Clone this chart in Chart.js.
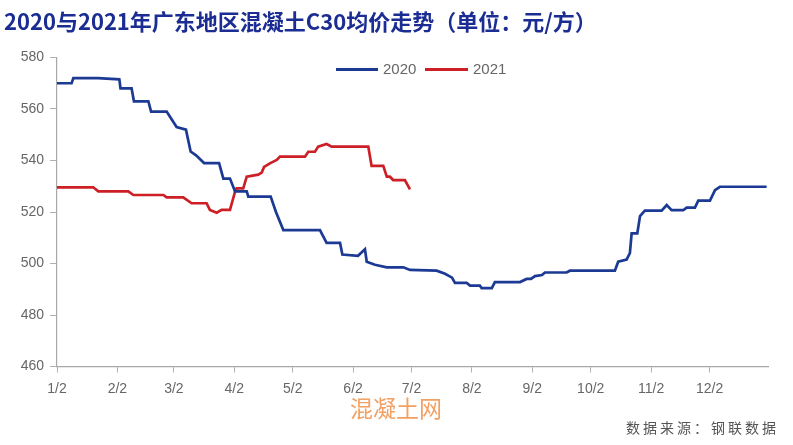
<!DOCTYPE html>
<html>
<head>
<meta charset="utf-8">
<script src="https://cdn.jsdelivr.net/npm/chart.js@4/dist/chart.umd.min.js"></script>
<style>
  html, body { margin: 0; padding: 0; background: #fff; }
  #wrap { position: relative; width: 793px; height: 445px; overflow: hidden; }
  #wrap canvas { position: absolute; left: 0; top: 0; }
  .title { position: absolute; left: 4px; top: 4px; font-family: "Noto Sans CJK SC", sans-serif; font-weight: 700; font-size: 22px; color: #1b2d92; white-space: nowrap; }
  .legend { position: absolute; top: 60px; font-family: "Liberation Sans", sans-serif; font-size: 15px; color: #666; white-space: nowrap; }
  .sw { position: absolute; height: 3px; top: 68px; }
  .wm { position: absolute; left: 350px; top: 390px; font-family: "Noto Sans CJK SC", sans-serif; font-size: 23px; color: #f2a063; white-space: nowrap; z-index: 2; }
  .src { position: absolute; left: 626px; top: 417px; font-family: "Noto Sans CJK SC", sans-serif; font-size: 14px; color: #555; letter-spacing: 3px; white-space: nowrap; }
</style>
</head>
<body>
<div id="wrap">
  <canvas id="c" width="793" height="445"></canvas>
  <div class="title">2020与2021年广东地区混凝土C30均价走势（单位：元/方）</div>
  <div class="sw" style="left:336px;width:42px;background:#1c3a94;"></div>
  <div class="legend" style="left:383px;">2020</div>
  <div class="sw" style="left:425px;width:43px;background:#cc2026;"></div>
  <div class="legend" style="left:473px;">2021</div>
  <div class="wm">混凝土网</div>
  <div class="src">数据来源：钢联数据</div>
</div>
<script>
// x = days since 1/2, y = price (元/方)
const seriesNames = ["2020", "2021"];
const days2020 = [0, 7.5, 8.4, 21, 32, 32.6, 38.3, 39.5, 46.9, 48.3, 56.3, 61.4, 66.2, 68.6, 71.4, 75.5, 83.2, 85.4, 88.8, 91.4, 97.4, 98.2, 109.7, 112.4, 116.2, 135, 138.4, 145.3, 146.5, 154.5, 158.1, 159, 163.2, 169.3, 177.8, 181.2, 194.9, 199.2, 202.8, 204.3, 210.3, 212, 217.1, 218, 223.2, 224.8, 237.7, 241.1, 243.3, 245.4, 249, 250.5, 261.6, 263.3, 286.4, 288.1, 292.4, 294.1, 295, 297.9, 299.3, 301.8, 310.4, 313, 315.5, 321.5, 323.2, 327.5, 329.2, 335.2, 337.8, 340.3, 364.3];
const values2020 = [570, 570, 572, 572, 571.5, 568, 568, 563, 563, 559, 559, 553, 552, 543.5, 542, 539, 539, 533, 533, 528, 528, 526, 526, 520, 513, 513, 508, 508, 503.5, 503, 505.5, 500.7, 499.5, 498.5, 498.5, 497.5, 497.2, 496, 494.5, 492.5, 492.5, 491.4, 491.4, 490.4, 490.4, 492.8, 492.8, 494, 494, 495.1, 495.5, 496.5, 496.5, 497.2, 497.2, 500.7, 501.5, 504, 511.7, 511.7, 518.4, 520.5, 520.5, 522.7, 520.7, 520.7, 521.7, 521.7, 524.4, 524.4, 528.5, 529.8, 529.8];
const days2021 = [0, 18.6, 21.2, 36.6, 39.2, 54.6, 56.3, 64.8, 69.1, 76.8, 78.5, 82, 84.5, 88.8, 91.4, 92.2, 95.6, 97.4, 103.3, 105.1, 106.3, 109.3, 112.8, 114.5, 127.3, 129, 132.4, 134.1, 138.4, 141, 159.8, 161.5, 167.5, 169.3, 170.9, 172.6, 178.6, 181.2];
const values2021 = [529.6, 529.6, 528, 528, 526.6, 526.6, 525.7, 525.7, 523.4, 523.4, 520.8, 519.7, 520.8, 520.8, 527.9, 529.2, 529.2, 533.7, 534.5, 535.3, 537.5, 538.9, 540.2, 541.5, 541.5, 543.4, 543.4, 545.4, 546.4, 545.4, 545.4, 537.9, 537.9, 533.7, 533.7, 532.4, 532.4, 528.8];
const tickDays = [0, 31, 60, 91, 121, 152, 182, 213, 244, 274, 305, 335];
const tickLabels = ["1/2", "2/2", "3/2", "4/2", "5/2", "6/2", "7/2", "8/2", "9/2", "10/2", "11/2", "12/2"];
const yMin = 460, yMax = 580, yStep = 20;

const toPts = (xs, ys) => xs.map((x, i) => ({ x: x, y: ys[i] }));

new Chart(document.getElementById('c'), {
  type: 'line',
  data: {
    datasets: [
      { label: seriesNames[0], data: toPts(days2020, values2020), borderColor: '#1c3a94', borderWidth: 2.7, pointRadius: 0, tension: 0, fill: false },
      { label: seriesNames[1], data: toPts(days2021, values2021), borderColor: '#cc2026', borderWidth: 2.7, pointRadius: 0, tension: 0, fill: false }
    ]
  },
  options: {
    responsive: false,
    animation: false,
    layout: { padding: { top: 57.5, right: 25, bottom: 0, left: 0 } },
    plugins: { legend: { display: false }, tooltip: { enabled: false }, title: { display: false } },
    scales: {
      x: {
        type: 'linear', min: 0, max: 365,
        afterBuildTicks: (s) => { s.ticks = tickDays.map(v => ({ value: v })); },
        afterFit: (s) => { s.height = 78.5; },
        ticks: {
          autoSkip: false, maxRotation: 0, padding: 8,
          color: '#666', font: { family: 'Liberation Sans', size: 14 },
          callback: (v) => { const i = tickDays.indexOf(v); return i >= 0 ? tickLabels[i] : ''; }
        },
        grid: { display: true, drawOnChartArea: false, drawTicks: true, tickLength: 6, color: '#b0b0b0' },
        border: { display: true, color: '#a8a8a8', width: 1.2 }
      },
      y: {
        min: yMin, max: yMax,
        afterFit: (s) => { s.width = 57; },
        ticks: { stepSize: yStep, padding: 6, color: '#666', font: { family: 'Liberation Sans', size: 14 } },
        grid: { display: true, drawOnChartArea: false, drawTicks: true, tickLength: 7, color: '#b0b0b0' },
        border: { display: true, color: '#a8a8a8', width: 1.2 }
      }
    }
  }
});
</script>
</body>
</html>
